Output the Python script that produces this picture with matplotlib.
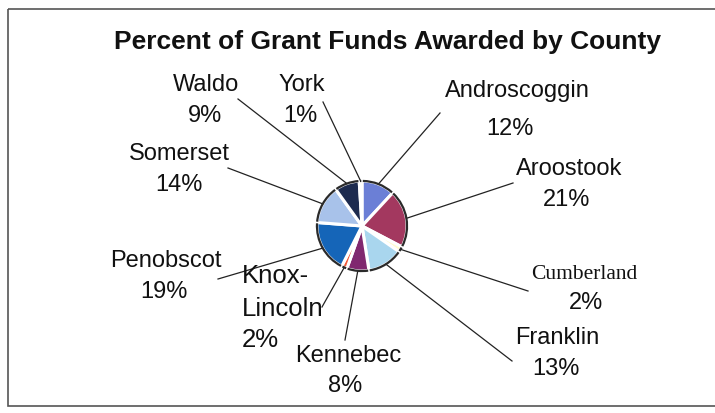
import numpy as np
import matplotlib
matplotlib.use("Agg")
from matplotlib import pyplot as plt
from matplotlib.patches import Arc, Rectangle

# data (clockwise from 12 o'clock)
counties = ['Androscoggin', 'Aroostook', 'Cumberland', 'Franklin', 'Kennebec',
            'Knox-Lincoln', 'Penobscot', 'Somerset', 'Waldo', 'York']
percents = [12, 21, 2, 13, 8, 2, 19, 14, 9, 1]
colors = ['#6b7fd6', '#a3385f', '#fffbd0', '#a9d6ee', '#80286f',
          '#f05a3a', '#1565b8', '#a8c2ea', '#1d2b4f', '#e0237f']

# label layout in pixels: (name x, name baseline, pct x, pct baseline)
label_pos = [(517, 97, 510, 135), (569, 175, 567, 206), (584, 279, 586, 309),
             (557, 344, 556, 375), (348, 362, 345, 392), (242, 283, 242, 347),
             (166, 267, 164, 298), (179, 160, 179, 191), (206, 91, 205, 122),
             (302, 91, 300, 122)]
# outer end of each leader line
line_end = [(440, 113), (513, 183), (528, 291), (512, 361), (345, 340),
            (322, 307), (218, 279), (228, 168), (238, 99), (323, 102)]

plt.rcParams['font.family'] = ['Liberation Sans', 'DejaVu Sans']

fig = plt.figure(figsize=(7.15, 4.13), dpi=100)
ax = fig.add_axes([0, 0, 1, 1])

cx, cy, r = 362, 226, 45
wedges, _ = ax.pie(percents, colors=colors, center=(cx, cy), radius=r,
                   startangle=-90, counterclock=True, explode=[0.045] * 10,
                   wedgeprops=dict(edgecolor='white', linewidth=2.2))

ax.set_xlim(0, 715)
ax.set_ylim(413, 0)
ax.set_aspect('equal')
ax.axis('off')

# dark rim on the outer arc of each wedge
for w in wedges:
    ax.add_patch(Arc(w.center, 2 * w.r, 2 * w.r, theta1=w.theta1 + 1, theta2=w.theta2 - 1,
                     color='#2a2a2a', lw=1.6, zorder=3))

txt = dict(va='baseline', color='#111111')

# leader lines and labels
for i, w in enumerate(wedges):
    mid = np.deg2rad((w.theta1 + w.theta2) / 2)
    x0 = w.center[0] + w.r * np.cos(mid)
    y0 = w.center[1] + w.r * np.sin(mid)
    x1, y1 = line_end[i]
    ax.plot([x0, x1], [y0, y1], color='#222222', lw=0.9, zorder=1)

    nx, ny, px, py = label_pos[i]
    pct = f"{percents[i]}%"
    name = counties[i]
    if name == 'Cumberland':
        ax.text(nx, ny, name, ha='center', fontsize=15.5, family='Liberation Serif', **txt)
        ax.text(px, py, pct, ha='center', fontsize=17, **txt)
    elif name.startswith('Knox'):
        first, second = name.split('-')
        ax.text(nx, ny, first + '-', ha='left', fontsize=18.5, **txt)
        ax.text(nx, ny + 33, second, ha='left', fontsize=18.5, **txt)
        ax.text(px, py, pct, ha='left', fontsize=18.5, **txt)
    else:
        ax.text(nx, ny, name, ha='center', fontsize=17, **txt)
        ax.text(px, py, pct, ha='center', fontsize=17, **txt)

ax.text(388, 49, 'Percent of Grant Funds Awarded by County', ha='center',
        fontsize=19, fontweight='bold', **txt)

# chart frame
ax.add_patch(Rectangle((8, 9), 720, 397, fill=False, edgecolor='#555555', lw=1.2))

fig.savefig('out.png', dpi=100)
